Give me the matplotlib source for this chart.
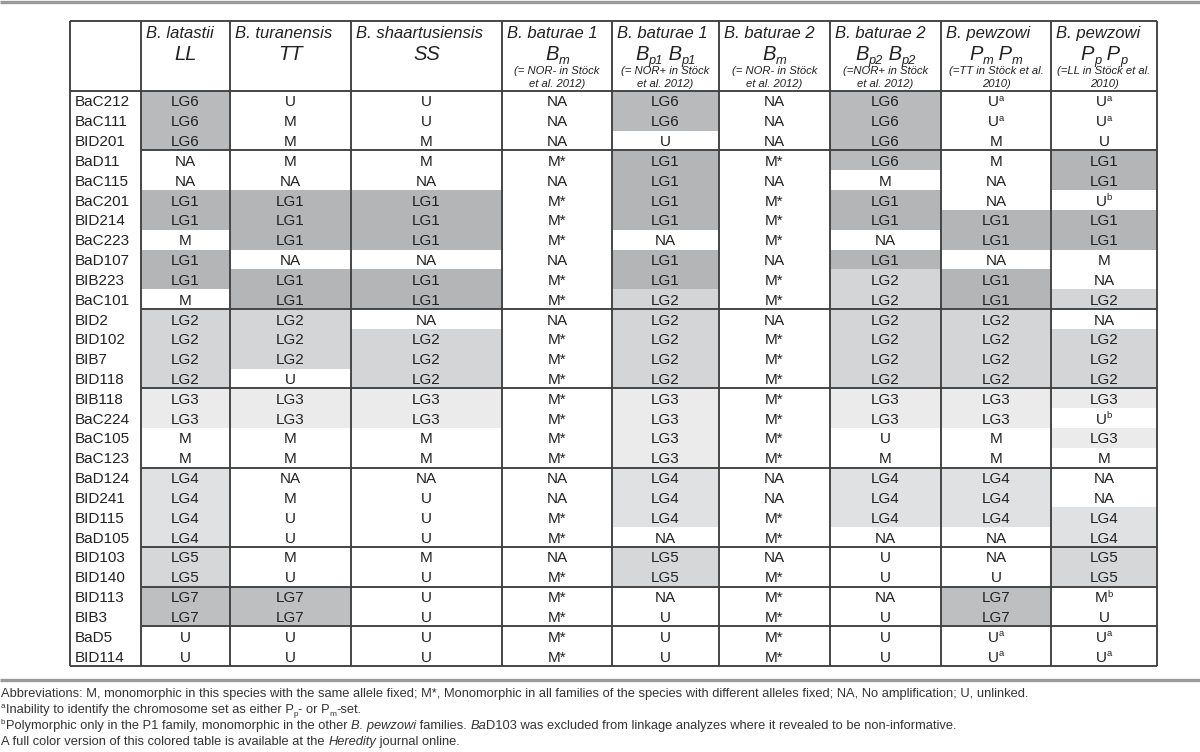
import matplotlib
matplotlib.use("Agg")
import matplotlib.pyplot as plt
from matplotlib.patches import Rectangle
from matplotlib.font_manager import FontProperties, findfont

markers = ["BaC212", "BaC111", "BID201", "BaD11", "BaC115", "BaC201", "BID214", "BaC223",
           "BaD107", "BIB223", "BaC101", "BID2", "BID102", "BIB7", "BID118", "BIB118",
           "BaC224", "BaC105", "BaC123", "BaD124", "BID241", "BID115", "BaD105", "BID103",
           "BID140", "BID113", "BIB3", "BaD5", "BID114"]

species = ["B. latastii", "B. turanensis", "B. shaartusiensis", "B. baturae 1", "B. baturae 1",
           "B. baturae 2", "B. baturae 2", "B. pewzowi", "B. pewzowi"]
symbols = [[("LL", "i")], [("TT", "i")], [("SS", "i")],
           [("B", "i"), ("m", "isub")],
           [("B", "i"), ("p1", "isub"), (" B", "i"), ("p1", "isub")],
           [("B", "i"), ("m", "isub")],
           [("B", "i"), ("p2", "isub"), (" B", "i"), ("p2", "isub")],
           [("P", "i"), ("m", "isub"), (" P", "i"), ("m", "isub")],
           [("P", "i"), ("p", "isub"), (" P", "i"), ("p", "isub")]]
notes = [None, None, None,
         ("(= NOR- in Stöck", "et al. 2012)"),
         ("(= NOR+ in Stöck", "et al. 2012)"),
         ("(= NOR- in Stöck", "et al. 2012)"),
         ("(=NOR+ in Stöck", "et al. 2012)"),
         ("(=TT in Stöck et al.", "2010)"),
         ("(=LL in Stöck et al.", "2010)")]

ll = ["LG6", "LG6", "LG6", "NA", "NA", "LG1", "LG1", "M", "LG1", "LG1", "M", "LG2", "LG2", "LG2", "LG2",
      "LG3", "LG3", "M", "M", "LG4", "LG4", "LG4", "LG4", "LG5", "LG5", "LG7", "LG7", "U", "U"]
tt = ["U", "M", "M", "M", "NA", "LG1", "LG1", "LG1", "NA", "LG1", "LG1", "LG2", "LG2", "LG2", "U",
      "LG3", "LG3", "M", "M", "NA", "M", "U", "U", "M", "U", "LG7", "LG7", "U", "U"]
ss = ["U", "U", "M", "M", "NA", "LG1", "LG1", "LG1", "NA", "LG1", "LG1", "NA", "LG2", "LG2", "LG2",
      "LG3", "LG3", "M", "M", "NA", "U", "U", "U", "M", "U", "U", "U", "U", "U"]
bm1 = ["NA", "NA", "NA", "M*", "NA", "M*", "M*", "M*", "NA", "M*", "M*", "NA", "M*", "M*", "M*",
       "M*", "M*", "M*", "M*", "NA", "NA", "M*", "M*", "NA", "M*", "M*", "M*", "M*", "M*"]
bp1 = ["LG6", "LG6", "U", "LG1", "LG1", "LG1", "LG1", "NA", "LG1", "LG1", "LG2", "LG2", "LG2", "LG2", "LG2",
       "LG3", "LG3", "LG3", "LG3", "LG4", "LG4", "LG4", "NA", "LG5", "LG5", "NA", "U", "U", "U"]
bm2 = ["NA", "NA", "NA", "M*", "NA", "M*", "M*", "M*", "NA", "M*", "M*", "NA", "M*", "M*", "M*",
       "M*", "M*", "M*", "M*", "NA", "NA", "M*", "M*", "NA", "M*", "M*", "M*", "M*", "M*"]
bp2 = ["LG6", "LG6", "LG6", "LG6", "M", "LG1", "LG1", "NA", "LG1", "LG2", "LG2", "LG2", "LG2", "LG2", "LG2",
       "LG3", "LG3", "U", "M", "LG4", "LG4", "LG4", "NA", "U", "U", "NA", "U", "U", "U"]
pm = ["U^a", "U^a", "M", "M", "NA", "NA", "LG1", "LG1", "NA", "LG1", "LG1", "LG2", "LG2", "LG2", "LG2",
      "LG3", "LG3", "M", "M", "LG4", "LG4", "LG4", "NA", "NA", "U", "LG7", "LG7", "U^a", "U^a"]
pp = ["U^a", "U^a", "U", "LG1", "LG1", "U^b", "LG1", "LG1", "M", "NA", "LG2", "NA", "LG2", "LG2", "LG2",
      "LG3", "U^b", "LG3", "M", "NA", "NA", "LG4", "LG4", "LG5", "LG5", "M^b", "U", "U^a", "U^a"]
columns = [ll, tt, ss, bm1, bp1, bm2, bp2, pm, pp]
group_ends = [2, 10, 14, 18, 22, 24, 26]

lg_colors = {"LG1": "#b4b5b7", "LG2": "#d4d5d7", "LG3": "#ebebec", "LG4": "#e0e1e2",
             "LG5": "#d6d7d9", "LG6": "#b9babc", "LG7": "#bebfc1"}

FONT = "Liberation Sans"
try:
    findfont("Liberation Sans Narrow", fallback_to_default=False)
    NARROW = "Liberation Sans Narrow"
except ValueError:
    NARROW = FONT

fig = plt.figure(figsize=(12, 7.52), dpi=100)
ax = fig.add_axes([0, 0, 1, 1])
ax.set_xlim(0, 1200)
ax.set_ylim(752, 0)
ax.axis("off")
rend = fig.canvas.get_renderer()


def width(s, size, style, family):
    fp = FontProperties(family=family, size=size, style=style)
    w1 = rend.get_text_width_height_descent("|" + s + "|", fp, ismath=False)[0]
    w0 = rend.get_text_width_height_descent("||", fp, ismath=False)[0]
    return w1 - w0


def runs(x, y, parts, size, family=FONT, ha="left", color="#222222"):
    items = []
    cur = 0
    for s, k in parts:
        style = "italic" if k.startswith("i") else "normal"
        fs, dy = size, 0
        if k.endswith("sup"):
            fs, dy = size * 0.62, -size * 1.389 * 0.36
        if k.endswith("sub"):
            fs, dy = size * 0.64, size * 1.389 * 0.2
        items.append((cur, dy, s, fs, style))
        cur += width(s, fs, style, family)
    x0 = x - cur / 2 if ha == "center" else x
    for dx, dy, s, fs, st in items:
        ax.text(x0 + dx, y + dy, s, fontsize=fs, style=st, family=family,
                ha="left", va="baseline", color=color)


col_x = [70, 141, 230, 351, 502, 612, 719, 830, 941, 1051, 1157]
top, head_bot, bot = 21, 91, 666
pitch = (bot - head_bot) / len(markers)

# shading
for j, col in enumerate(columns):
    for i, v in enumerate(col):
        if v in lg_colors:
            ax.add_patch(Rectangle((col_x[j + 1], head_bot + i * pitch), col_x[j + 2] - col_x[j + 1],
                                   pitch, facecolor=lg_colors[v], lw=0, zorder=0))

# lines
lc, lw = "#404040", 1.35
ax.vlines(col_x, top, bot, color=lc, lw=lw)
ax.hlines([top, head_bot, bot], col_x[0], col_x[-1], color=lc, lw=lw)
for g in group_ends:
    ax.hlines(head_bot + (g + 1) * pitch, col_x[1], col_x[-1], color=lc, lw=lw)
ax.hlines([1.8, 680], 0, 1200, color="#9a9a9a", lw=2.4)

# header
for j in range(9):
    cx = (col_x[j + 1] + col_x[j + 2]) / 2
    ax.text(col_x[j + 1] + 5, 38, species[j], fontsize=12, style="italic", family=FONT,
            ha="left", va="baseline", color="#222222")
    runs(cx, 60, symbols[j], 14.5, ha="center")
    if notes[j]:
        ax.text(cx, 74.5, notes[j][0], fontsize=8.1, style="italic", family=FONT, ha="center",
                va="baseline", color="#222222")
        ax.text(cx, 87, notes[j][1], fontsize=8.1, style="italic", family=FONT, ha="center",
                va="baseline", color="#222222")

# body
for i, m in enumerate(markers):
    yb = head_bot + (i + 0.5) * pitch + 5.5
    ax.text(75, yb, m, fontsize=11, family=FONT, ha="left", va="baseline", color="#222222")
    for j, col in enumerate(columns):
        cx = (col_x[j + 1] + col_x[j + 2]) / 2
        v = col[i]
        if "^" in v:
            a, b = v.split("^")
            parts = [(a, "n"), (b, "sup")]
        else:
            parts = [(v, "n")]
        runs(cx, yb, parts, 11, ha="center")

# footnotes
foot = [
    [("Abbreviations: M, monomorphic in this species with the same allele fixed; M*, Monomorphic in all "
      "families of the species with different alleles fixed; NA, No amplification; U, unlinked.", "n")],
    [("a", "sup"), ("Inability to identify the chromosome set as either P", "n"), ("p", "sub"),
     ("- or P", "n"), ("m", "sub"), ("-set.", "n")],
    [("b", "sup"), ("Polymorphic only in the P1 family, monomorphic in the other ", "n"),
     ("B. pewzowi", "i"), (" families. ", "n"), ("Ba", "i"),
     ("D103 was excluded from linkage analyzes where it revealed to be non-informative.", "n")],
    [("A full color version of this colored table is available at the ", "n"), ("Heredity", "i"),
     (" journal online.", "n")],
]
# the first footnote line runs to about x=1036 in the reference
fn = 9.0 * 1035 / width(foot[0][0][0], 9.0, "normal", NARROW)
for k, parts in enumerate(foot):
    runs(1, 697 + k * 16, parts, fn, family=NARROW, color="#333333")

fig.savefig("out.png", dpi=100)
